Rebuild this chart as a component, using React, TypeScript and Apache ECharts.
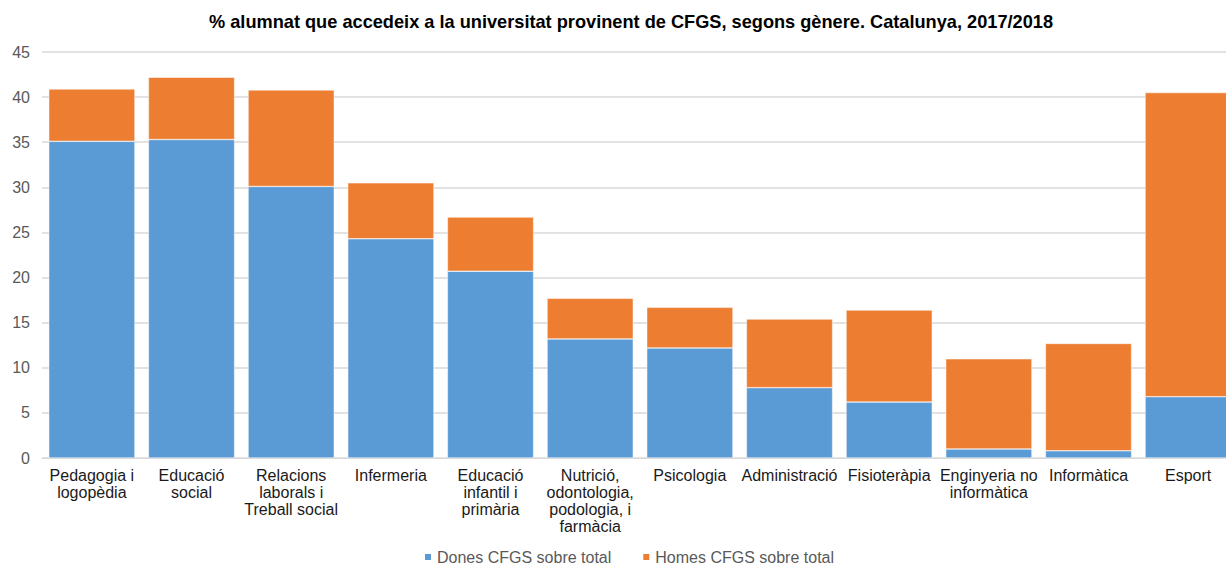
import React, { useEffect, useRef } from "react";
import * as echarts from "echarts";

const categories = [
  "Pedagogia i\nlogopèdia",
  "Educació\nsocial",
  "Relacions\nlaborals i\nTreball social",
  "Infermeria",
  "Educació\ninfantil i\nprimària",
  "Nutrició,\nodontologia,\npodologia, i\nfarmàcia",
  "Psicologia",
  "Administració",
  "Fisioteràpia",
  "Enginyeria no\ninformàtica",
  "Informàtica",
  "Esport",
];
const dones = [35.1, 35.3, 30.1, 24.3, 20.7, 13.2, 12.2, 7.8, 6.2, 1.0, 0.8, 6.8];
const homes = [5.8, 6.9, 10.7, 6.2, 6.0, 4.5, 4.5, 7.6, 10.2, 10.0, 11.9, 33.7];
const seriesNames = ["Dones CFGS sobre total", "Homes CFGS sobre total"];
const titleText =
  "% alumnat que accedeix a la universitat provinent de CFGS, segons gènere. Catalunya, 2017/2018";

export default function App() {
  const ref = useRef<HTMLDivElement>(null);
  useEffect(() => {
    document.body.style.margin = "0";
    const chart = echarts.init(ref.current!, null, { renderer: "svg" });
    const font = "'Liberation Sans', Arial, sans-serif";
    chart.setOption({
      animation: false,
      textStyle: { fontFamily: font },
      title: {
        text: titleText,
        left: 204,
        top: 8,
        textStyle: { fontSize: 18.2, fontWeight: "bold", color: "#000", fontFamily: font },
      },
      legend: {
        top: 549,
        left: 423,
        padding: 0,
        itemWidth: 8,
        itemHeight: 8,
        itemGap: 30,
        icon: "rect",
        textStyle: { fontSize: 16, color: "#595959", fontFamily: font },
        data: seriesNames,
      },
      grid: { left: 42, width: 1196, top: 52, height: 406 },
      xAxis: {
        type: "category",
        data: categories,
        axisTick: { show: false },
        axisLine: { lineStyle: { color: "#d9d9d9" } },
        axisLabel: {
          interval: 0,
          color: "#1a1a1a",
          fontSize: 16,
          lineHeight: 17,
          margin: 9,
          fontFamily: font,
        },
      },
      yAxis: {
        type: "value",
        min: 0,
        max: 45,
        interval: 5,
        axisLabel: { color: "#595959", fontSize: 16, margin: 12, fontFamily: font },
        splitLine: { lineStyle: { color: "#d9d9d9", width: 1.5 } },
      },
      series: [
        {
          name: seriesNames[0],
          type: "bar",
          stack: "total",
          data: dones,
          barCategoryGap: "13.5%",
          itemStyle: { color: "#5b9bd5", borderColor: "#ffffff", borderWidth: 0.5 },
        },
        {
          name: seriesNames[1],
          type: "bar",
          stack: "total",
          data: homes,
          barCategoryGap: "13.5%",
          itemStyle: { color: "#ed7d31", borderColor: "#ffffff", borderWidth: 0.5 },
        },
      ],
    });
    return () => chart.dispose();
  }, []);
  return (
    <div style={{ width: 1226, height: 565, overflow: "hidden", position: "relative" }}>
      <div ref={ref} style={{ width: 1250, height: 565 }} />
    </div>
  );
}
